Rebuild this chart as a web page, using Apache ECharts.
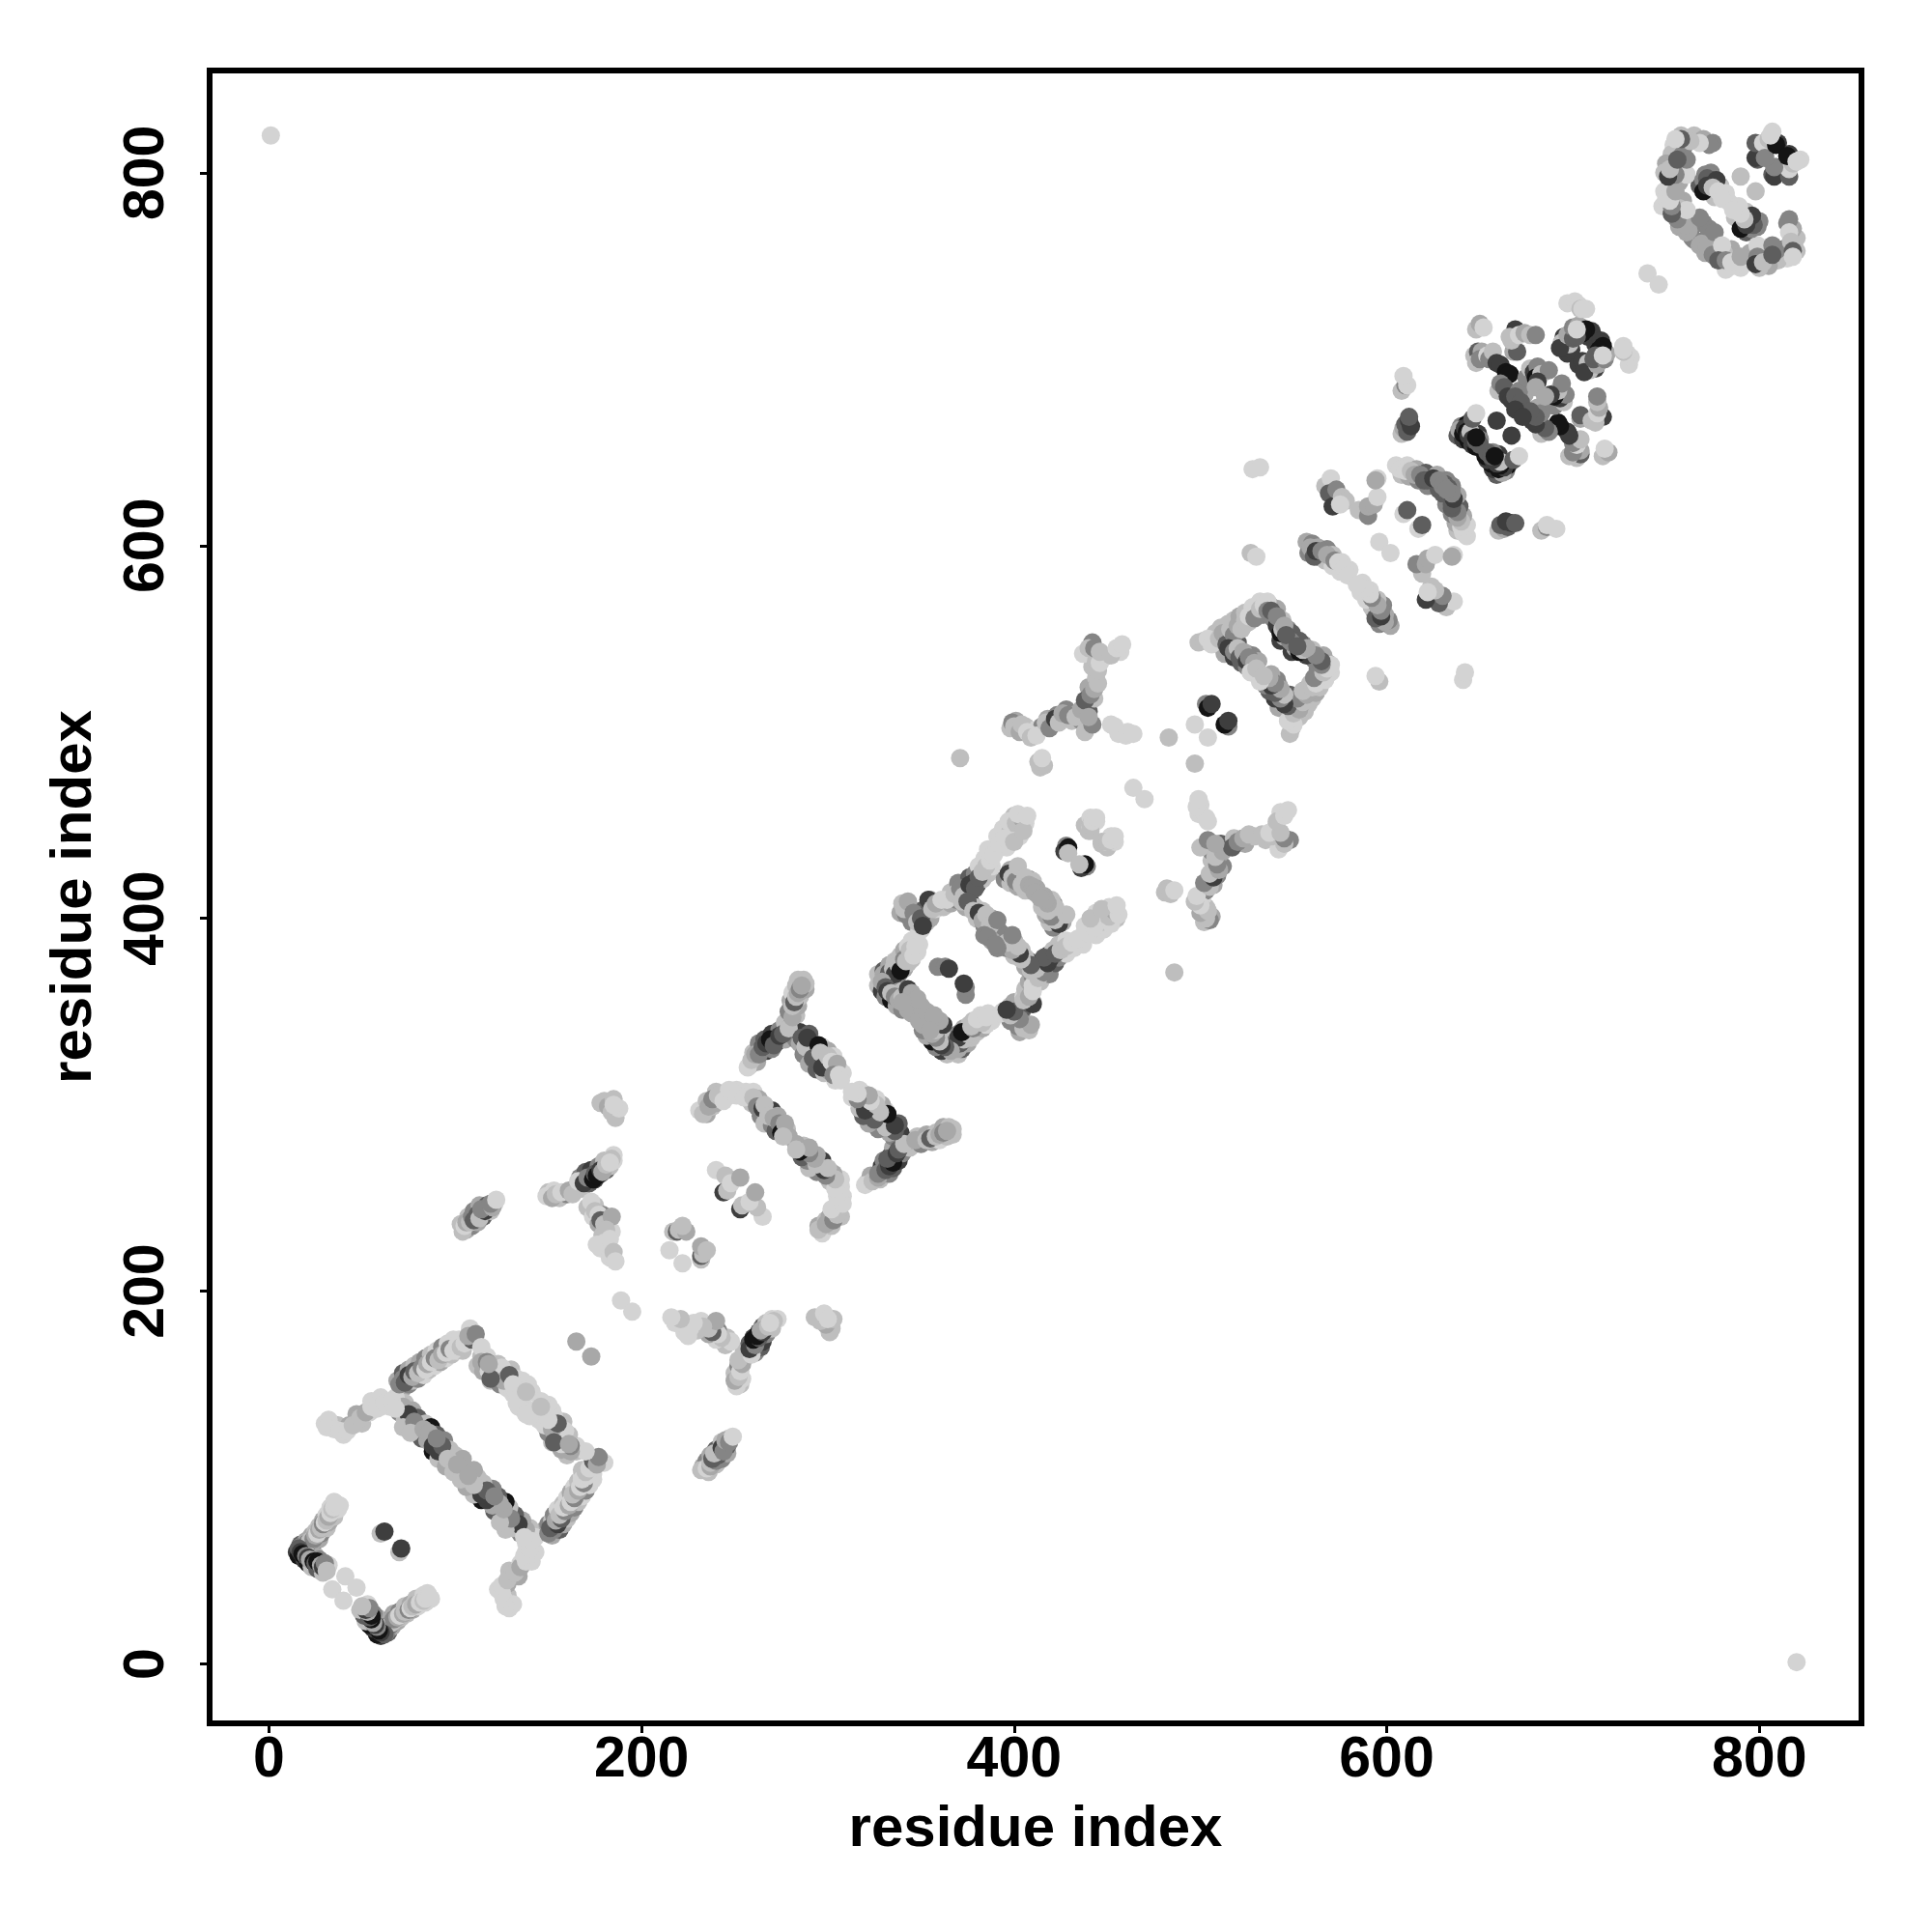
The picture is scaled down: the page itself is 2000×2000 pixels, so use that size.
<!DOCTYPE html>
<html><head><meta charset="utf-8">
<style>html,body{margin:0;padding:0;background:#fff}#c{width:2000px;height:2000px}</style>
<script src="https://cdn.jsdelivr.net/npm/echarts@6/dist/echarts.min.js"></script>
</head><body><div id="c"></div>
<script>
// each contact: [residue i, residue j, grey level]; a contact is plotted at (i,j) and at (j,i)
const greyLevels=['#d3d3d3','#bebebe','#a8a8a8','#858585','#5e5e5e','#3e3e3e','#141414'];
const tickValues=[0,200,400,600,800];
const axisTitle='residue index';
// contacts seen beneath the others
const u01=[[20,61,3],[17,64,4],[22,63,1],[20,66,2],[24,65,4],[23,69,2],[27,67,2],[25,71,1],[28,70,3],[27,74,1],[31,73,1],[29,77,2],[32,76,2],[31,80,0],[35,79,1],[33,84,0],[37,83,0],[35,87,0],[38,85,0]];
const u02=[[15,60,5],[17,63,3],[16,58,6],[20,61,2],[19,56,5],[22,59,4],[21,54,6],[25,58,2],[23,52,1],[27,56,3],[26,51,4],[30,53,2],[29,49,1],[32,53,0]];
const u04=[[72,148,2],[69,152,2],[75,150,3],[72,156,4],[77,152,1],[75,158,2],[80,153,3],[78,160,1],[83,155,0],[81,162,2],[86,158,1],[84,164,3],[89,160,0],[87,166,1],[92,162,2],[90,168,0],[95,164,0],[93,170,3],[98,166,1],[96,172,0],[101,168,0],[99,174,0],[104,168,1],[102,174,0]];
const u05=[[70,135,3],[73,140,1],[73,131,1],[77,136,2],[76,128,5],[80,132,4],[79,124,1],[84,129,1],[82,121,4],[87,127,6],[85,120,2],[90,123,4],[88,114,6],[94,120,3],[91,110,1],[97,115,1],[95,106,2],[100,112,1],[97,108,2],[104,110,2]];
const u06=[[30,129,0],[34,129,0],[40,123,0],[37,128,1],[43,128,2],[47,130,1],[50,129,1],[47,134,2],[54,135,0],[55,141,0],[60,143,0],[60,138,0],[65,138,0],[68,143,0]];
const u07=[[114,165,1],[112,160,1],[117,165,0],[115,157,2],[120,160,3],[119,152,1],[123,161,1],[122,155,0],[127,156,1],[124,150,3],[130,158,1],[128,148,0],[133,153,0],[131,145,0],[136,152,0],[135,143,0],[139,150,0],[132,147,0],[136,140,0],[141,146,0],[137,136,0]];
const u09=[[106,233,2],[103,236,1],[109,235,3],[107,240,1],[112,237,2],[110,243,3],[115,240,4],[113,246,2],[117,246,4],[119,243,1],[121,247,0]];
const u10=[[150,253,1],[153,254,0],[156,250,1],[160,252,3],[165,256,2],[168,255,1],[167,261,3],[172,258,4],[170,264,4],[175,260,5],[173,265,5],[178,263,5],[177,267,3],[181,265,4],[180,270,1],[183,267,1],[185,273,0],[185,270,0]];
const u11=[[171,245,1],[175,246,1],[174,240,0],[179,241,3],[177,236,2],[182,237,1],[179,230,1],[184,232,0],[178,223,0],[182,224,0],[183,218,0]];
const u15=[[231,297,0],[235,295,2],[238,299,1],[235,302,1],[240,301,2],[240,307,1],[243,306,1],[247,305,0],[251,308,0],[256,307,0],[259,301,1],[260,307,0],[263,303,2],[264,294,3],[267,297,4],[266,290,1],[270,297,5],[270,289,3],[273,294,2],[272,286,4],[278,287,1],[279,283,2]];
const u16=[[258,321,1],[262,323,2],[260,328,1],[264,328,4],[263,333,3],[267,329,5],[266,335,4],[270,330,3],[270,338,5],[273,334,6],[274,340,3],[277,335,2],[277,344,1],[280,342,3],[279,350,3],[283,348,1],[280,356,2],[284,353,2],[281,360,0],[285,358,1],[283,364,1],[288,362,2],[284,367,1],[288,365,1]];
const u17=[[283,335,3],[285,339,5],[285,333,2],[290,338,4],[287,327,3],[294,331,5],[290,322,2],[297,331,0],[294,319,4],[300,329,2],[298,317,1],[303,326,0],[301,318,2],[306,319,1],[304,313,0],[308,317,0]];
const u18=[[330,366,2],[327,370,1],[333,366,3],[330,372,4],[336,368,4],[333,375,2],[338,370,3],[336,377,1],[341,373,2],[339,380,1],[343,376,1],[341,383,2],[345,378,1],[343,385,0],[348,382,0],[345,388,0],[349,386,0]];
const u19=[[327,364,1],[331,367,2],[329,361,5],[334,364,2],[331,358,3],[337,360,4],[334,356,6],[340,361,1],[337,353,2],[342,358,1],[340,351,3],[345,356,5],[343,351,2],[347,354,2],[345,349,2],[350,353,2]];
const u21=[[339,403,2],[342,402,3],[344,405,4],[340,408,1],[347,400,2],[345,398,3],[350,404,3],[353,398,1],[350,394,1],[352,405,4],[355,400,2],[355,410,2],[358,405,0],[362,406,1],[366,408,2],[366,414,1],[369,410,3],[370,419,3],[373,416,4],[375,414,1],[376,422,4],[380,418,5],[379,424,3],[383,421,1],[381,428,0],[386,424,1],[384,432,0],[388,428,0],[386,437,0],[390,436,0],[391,444,0],[396,438,0],[394,448,0],[398,447,1],[400,455,1],[402,450,1],[406,451,0],[403,444,0]];
const u22=[[370,412,1],[374,406,2],[377,408,5],[380,400,1],[379,406,1],[383,404,1],[384,396,3],[388,400,2],[386,393,3],[389,394,4],[392,393,3],[388,388,2]];
const u23=[[395,421,3],[398,426,2],[398,419,1],[403,423,2],[402,417,2],[405,420,2],[406,415,1],[408,421,3],[410,420,1],[412,416,2]];
const u26=[[401,506,2],[398,502,1],[406,503,1],[411,501,0],[416,482,1],[415,503,3],[418,507,2],[420,505,4],[423,509,3],[425,507,5],[428,512,3],[431,506,1],[434,510,2],[436,506,3],[439,514,3],[440,511,4],[443,518,1],[440,524,2],[444,529,1],[442,535,1],[448,540,1],[457,543,0],[461,500,0],[437,542,0],[442,548,3],[452,504,0]];
const u28=[[508,548,0],[510,547,1],[508,553,1],[513,550,3],[511,556,1],[517,552,2],[515,558,1],[519,553,4],[518,560,1],[523,557,3],[521,562,2],[526,559,1],[524,564,1],[529,564,1],[528,567,0],[533,563,3],[532,570,0],[536,566,1],[537,568,0]];
const u29=[[513,542,2],[516,548,3],[518,540,5],[520,548,4],[522,537,4],[525,542,2],[525,535,3],[528,541,3],[527,533,3],[531,538,2],[530,531,2]];
const u30=[[534,563,3],[537,568,4],[539,561,3],[541,566,2],[541,557,5],[544,560,1],[543,549,5],[547,555,3],[545,551,2],[549,553,4],[548,549,3]];
const u32=[[557,602,2],[558,596,3],[560,601,3],[563,594,4],[563,599,2],[567,592,1],[568,598,3],[571,595,1],[571,589,0],[576,591,0],[575,586,0],[580,587,0]];
const u36=[[605,643,0],[608,638,1],[611,643,0],[612,637,2],[616,641,2],[617,635,3],[621,639,4],[622,632,3],[626,632,3],[627,638,2],[632,635,3],[630,629,3],[633,631,4],[628,630,4]];
const u38=[[638,659,4],[640,664,3],[641,657,5],[643,665,6],[644,656,6],[645,663,6],[646,654,5],[649,660,5],[648,653,6],[650,657,3],[650,654,4]];
const u43=[[758,820,1],[754,815,0],[760,815,3],[765,820,1],[770,818,2],[775,816,3],[753,810,1],[759,810,3],[750,805,2],[749,800,1],[756,803,4],[749,790,0],[748,782,0],[757,795,2],[759,785,2],[755,778,3],[757,781,1],[763,776,2],[757,771,2],[765,772,3],[764,765,3],[770,773,3]];
const u44=[[768,793,4],[771,799,3],[774,800,3],[775,796,4],[779,793,1],[783,785,0],[776,787,1]];
const underlays=[u01,u02,u04,u05,u06,u07,u09,u10,u11,u15,u16,u17,u18,u19,u21,u22,u23,u26,u28,u29,u30,u32,u36,u38,u43,u44];
// contacts seen on top
const s01=[[18,62,4],[19,63,3],[20,64,2],[21,65,4],[22,66,1],[24,67,3],[25,69,2],[26,70,0],[27,72,2],[28,73,1],[29,75,3],[30,76,0],[31,77,1],[32,79,2],[33,81,0],[34,83,1],[35,84,0],[36,86,0]];
const s02=[[16,62,4],[17,60,5],[18,59,6],[20,58,3],[21,57,5],[22,56,2],[24,55,6],[25,54,4],[26,55,6],[28,53,2],[29,52,5],[30,54,3],[31,50,1],[34,40,0],[41,47,0]];
const s03=[[60,70,1],[62,71,5]];
const s04=[[70,150,3],[72,153,3],[73,151,4],[75,155,5],[77,154,2],[78,157,4],[80,156,1],[82,159,3],[84,158,0],[85,161,2],[87,162,0],[89,164,3],[91,163,1],[93,166,2],[95,167,0],[97,169,3],[99,168,0],[101,171,0],[103,170,1],[105,172,0],[109,174,4],[108,180,0],[107,176,2],[111,177,3],[114,170,0]];
const s05=[[72,138,2],[75,134,5],[72,127,1],[78,130,3],[76,124,1],[83,126,2],[86,124,2],[88,117,5],[91,114,5],[93,117,4],[90,121,3],[96,110,1],[99,103,1],[101,107,2]];
const s06=[[32,131,0],[31,127,0],[35,126,0],[38,125,0],[42,125,0],[45,128,1],[49,132,1],[52,135,2],[55,138,0],[58,137,0],[62,140,0],[66,141,0],[68,137,0]];
const s07=[[114,162,2],[117,162,3],[118,157,0],[120,154,4],[121,158,4],[125,159,0],[126,152,2],[129,155,4],[131,150,0],[133,140,0],[135,149,0],[134,138,0],[138,147,0],[138,146,1],[119,153,4],[118,161,2]];
const s08=[[165,173,2],[189,195,0]];
const s09=[[104,232,1],[105,235,0],[106,237,2],[108,237,1],[109,240,3],[110,238,4],[112,241,4],[113,239,1],[116,243,5],[114,244,3],[120,245,2],[119,247,3],[122,249,0]];
const s10=[[149,251,0],[152,250,2],[154,252,1],[157,253,0],[161,254,2],[163,252,1],[166,259,0],[169,258,5],[171,261,3],[174,260,6],[175,263,4],[176,262,6],[178,265,5],[179,264,2],[181,268,1],[184,271,1],[183,269,0]];
const s11=[[173,248,0],[175,243,1],[177,241,0],[178,238,4],[180,236,1],[184,240,2],[181,233,1],[180,226,0],[176,225,0],[183,228,0],[185,221,1],[186,216,0]];
const s12=[[180,302,1],[178,301,1],[182,299,2],[185,303,1],[184,296,1],[186,293,1],[188,298,0],[185,300,0]];
const s13=[[240,265,0],[245,262,1],[244,253,5],[246,254,1],[248,258,0],[253,261,2]];
const s14=[[215,222,0],[217,232,1],[219,232,4],[220,233,1],[224,232,2],[222,235,1]];
const s15=[[233,295,1],[236,299,2],[238,303,3],[241,305,1],[244,302,0],[247,308,0],[251,305,0],[255,304,0],[260,304,1],[262,299,3],[265,298,5],[266,300,1],[268,294,1],[271,293,2],[274,290,3],[275,285,6],[277,290,2],[276,283,1]];
const s16=[[257,320,0],[259,324,1],[261,327,2],[263,327,3],[265,331,4],[267,333,5],[269,335,6],[271,332,4],[274,337,5],[276,338,4],[279,341,1],[281,347,2],[281,353,1],[282,355,4],[283,358,1],[284,360,2],[285,362,3],[287,367,1],[286,364,2]];
const s17=[[286,336,4],[288,331,1],[289,336,5],[295,332,6],[292,325,4],[296,328,1],[297,320,5],[300,326,1],[302,323,0],[305,322,2],[303,316,3],[306,316,0],[307,313,0]];
const s18=[[328,367,1],[330,370,2],[332,368,4],[333,371,4],[335,373,1],[336,370,5],[338,375,1],[339,372,6],[341,378,3],[342,377,1],[344,383,1],[346,380,0],[347,385,0]];
const s19=[[329,366,2],[331,363,4],[332,361,5],[334,360,1],[336,358,3],[338,356,2],[340,358,1],[343,362,5],[345,360,2],[348,357,2],[340,355,2]];
const s20=[[359,374,3],[363,374,3],[365,373,5]];
const s21=[[341,405,1],[343,409,2],[346,403,3],[349,393,0],[348,398,1],[350,400,4],[351,396,5],[354,410,5],[356,405,1],[358,408,2],[361,410,0],[364,410,0],[368,413,1],[371,416,3],[373,412,1],[376,418,5],[378,419,5],[379,416,4],[381,422,4],[383,425,1],[385,428,1],[387,431,0],[389,434,0],[392,440,0],[395,443,0],[400,441,1],[397,452,0],[401,451,1],[404,454,2],[402,456,0],[405,447,1],[407,455,0]];
const s22=[[372,409,1],[375,409,4],[378,404,1],[381,403,5],[383,399,2],[385,402,1],[387,396,1],[391,399,3],[384,391,3],[386,390,3]];
const s23=[[397,424,5],[399,422,1],[401,420,3],[402,428,1],[404,418,1],[406,422,1],[408,418,2],[410,417,2],[411,414,2]];
const s24=[[428,439,3],[427,436,5],[429,438,6],[429,435,1]];
const s25=[[438,450,1],[440,447,1],[441,449,0],[441,454,0],[444,452,0],[447,441,1],[450,441,1],[452,442,0],[454,444,0]];
const s26=[[399,505,3],[400,503,1],[403,500,2],[404,504,1],[407,500,0],[409,497,1],[412,498,0],[414,481,1],[413,484,1],[415,486,0],[417,505,1],[419,502,3],[422,507,5],[424,505,1],[426,510,2],[429,509,3],[433,508,1],[436,512,2],[438,517,4],[438,500,1],[442,504,3],[440,508,2],[441,520,3],[443,523,2],[445,526,1],[445,533,1],[444,538,1],[446,537,0],[440,545,1],[443,545,3],[446,543,1],[452,541,1],[455,545,0],[458,547,0],[456,499,0],[454,503,0],[460,498,0],[464,499,0]];
const s27=[[483,497,1],[497,504,0],[464,470,0],[371,486,1],[503,515,3],[504,513,6],[506,515,5]];
const s28=[[499,548,1],[502,549,1],[504,550,0],[506,547,0],[510,550,1],[512,553,2],[514,547,4],[516,555,1],[518,552,3],[520,557,2],[522,555,1],[524,560,1],[526,562,0],[529,561,3],[532,566,1],[534,568,0],[536,570,0]];
const s29=[[515,545,5],[518,543,3],[520,545,1],[521,540,4],[523,543,2],[525,538,5],[526,540,3],[529,537,2],[527,532,0],[530,534,1]];
const s30=[[536,565,3],[538,565,4],[541,562,3],[543,553,6],[544,555,1],[545,557,2],[546,552,4]];
const s31=[[528,641,0],[532,642,0],[527,596,1],[530,594,0]];
const s32=[[559,599,2],[561,594,4],[562,597,5],[565,597,3],[568,595,2],[572,592,3],[574,591,0],[577,588,0],[579,584,0]];
const s33=[[567,632,1],[570,636,0],[569,628,4],[571,621,5],[573,630,3],[576,626,1],[578,624,1],[575,622,0]];
const s34=[[585,619,1],[590,616,3],[590,621,2],[593,622,2],[595,626,0],[595,636,0],[594,635,2],[596,602,0]];
const s35=[[609,617,0],[611,619,4]];
const s36=[[607,641,0],[610,640,0],[613,640,1],[615,638,2],[618,638,3],[620,635,4],[622,635,4],[625,636,5],[628,635,3],[630,632,3]];
const s37=[[608,660,1],[609,663,2],[610,665,4],[611,661,4],[612,667,5],[613,664,5],[612,669,4],[608,683,1],[610,686,3],[611,686,0],[609,691,0]];
const s38=[[639,662,2],[641,660,6],[642,663,5],[643,661,6],[644,659,5],[645,661,1],[646,657,5],[648,656,4],[648,658,6],[646,668,4],[648,671,0],[659,667,5]];
const s39=[[648,716,1],[650,719,2],[652,717,0],[647,702,1],[649,704,4],[651,704,2],[648,698,1],[650,700,3],[654,702,0],[655,700,3],[657,704,1],[659,698,5],[661,697,5],[664,693,6],[666,692,6],[660,683,1],[661,687,3],[663,685,4],[665,680,5],[667,678,5],[674,681,2],[671,683,3],[669,680,4],[672,677,4],[669,673,5]];
const s40=[[668,704,2],[670,704,4],[667,710,1],[669,716,5],[666,712,1],[671,713,0],[674,714,2],[677,713,1],[680,713,3],[675,690,3],[677,695,1],[679,693,5],[681,696,3],[680,690,6],[683,692,1],[687,694,3],[681,688,5],[680,685,2]];
const s41=[[695,712,5],[694,709,1],[697,703,5],[699,705,5],[698,708,1],[693,706,5],[697,713,2],[700,711,4],[708,712,5],[710,715,5],[700,717,3],[703,718,2],[707,716,6],[705,714,6],[702,712,4],[702,716,0],[697,730,0],[701,731,0],[703,729,0],[704,727,1],[707,727,0],[705,727,0]];
const s42=[[740,746,0],[790,798,1]];
const s43=[[761,774,3],[761,768,2],[762,769,2],[760,772,2],[768,776,3],[756,775,3],[761,780,0],[753,778,4],[753,782,3],[750,786,0],[752,785,0],[755,790,2],[758,803,2],[761,799,0],[755,799,3],[751,798,5],[752,802,1],[761,807,3],[756,807,4],[773,815,3],[768,816,0],[763,817,1],[758,818,4],[755,818,0]];
const s44=[[770,796,3],[772,797,4],[770,790,6],[772,793,5],[777,796,5],[775,792,1],[778,790,0],[782,789,0],[780,786,0]];
const s45=[[800,815,4],[799,807,4],[801,812,1],[801,810,3],[803,809,4],[798,808,5],[798,816,4],[804,814,1],[802,816,0],[808,803,3],[805,818,1],[810,816,5],[809,815,6],[807,822,0],[806,820,0]];
const s46=[[1,820,0]];
const strands=[s01,s02,s03,s04,s05,s06,s07,s08,s09,s10,s11,s12,s13,s14,s15,s16,s17,s18,s19,s20,s21,s22,s23,s24,s25,s26,s27,s28,s29,s30,s31,s32,s33,s34,s35,s36,s37,s38,s39,s40,s41,s42,s43,s44,s45,s46];

const points=[];
underlays.concat(strands).forEach(st=>st.forEach(([i,j,g])=>{points.push([i,j,g]);points.push([j,i,g]);}));

const font='"Liberation Sans"';
function axis(nameGap,labelMargin,rotate,nameRotate){
  return {type:'value',min:-31.84,max:854.84,name:axisTitle,nameLocation:'middle',nameGap:nameGap,nameRotate:nameRotate,
    nameTextStyle:{fontFamily:font,fontWeight:'bold',fontSize:60,color:'#000'},
    axisLine:{show:false,onZero:false},splitLine:{show:false},
    axisTick:{show:true,length:10,inside:false,lineStyle:{color:'#000',width:3},customValues:tickValues},
    axisLabel:{show:true,rotate:rotate,margin:labelMargin,fontFamily:font,fontWeight:'bold',fontSize:59,color:'#000',customValues:tickValues,formatter:v=>String(v)}};
}
const chart=echarts.init(document.getElementById('c'),null,{renderer:'canvas',width:2000,height:2000});
chart.setOption({animation:false,backgroundColor:'#fff',
  grid:{show:true,left:217,top:73,width:1710,height:1711,borderColor:'#000',borderWidth:6,backgroundColor:'transparent',containLabel:false},
  xAxis:axis(80,9,0,0),
  yAxis:axis(110,35,90,90),
  series:[{type:'scatter',symbol:'circle',symbolSize:19,data:points,silent:true,encode:{x:0,y:1},
    itemStyle:{opacity:1,color:p=>greyLevels[p.value[2]]}}]
});
</script></body></html>
